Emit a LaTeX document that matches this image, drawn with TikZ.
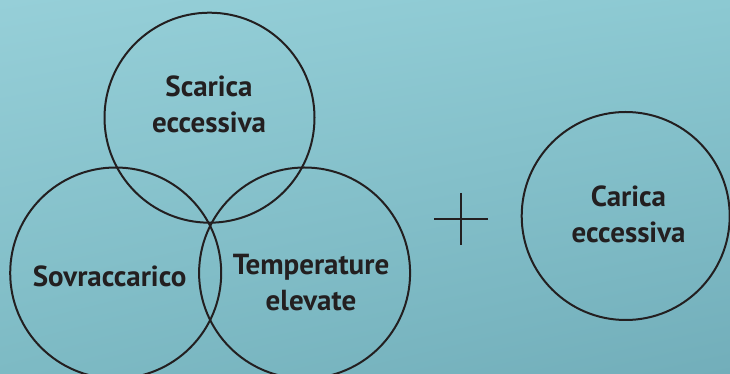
\documentclass[tikz,border=0pt]{standalone}
\usepackage{fontspec}
\setmainfont{PT Sans}
\usetikzlibrary{shadings}
\definecolor{bgul}{HTML}{96CFD8}
\definecolor{bgur}{HTML}{8CC9D2}
\definecolor{bgll}{HTML}{7DBAC4}
\definecolor{bglr}{HTML}{72AEBA}
\definecolor{ink}{HTML}{231F20}
\begin{document}
\begin{tikzpicture}[x=1pt,y=1pt,
  ring/.style={draw=ink,line width=2pt,circle,minimum size=#1,inner sep=0pt},
  lbl/.style={font=\fontsize{29}{36}\selectfont\bfseries,text=ink,align=center,inner sep=0pt}]
\shade[upper left=bgul,upper right=bgur,lower left=bgll,lower right=bglr] (0,0) rectangle (730,374);
\useasboundingbox (0,0) rectangle (730,374);
\node[ring=210pt] (top) at (209.5,256.3) {};
\node[ring=211pt] (left) at (115.7,101) {};
\node[ring=211pt] (right) at (304.6,101) {};
\node[ring=208pt] (carica) at (625.7,158) {};
\coordinate (pl) at (434,155);
\coordinate (pr) at (488,155);
\coordinate (pt) at (461,181);
\coordinate (pb) at (461,129);
\draw[draw=ink,line width=1.6pt] (pl) -- (pr) (pt) -- (pb);
\node[lbl] (t1) at (209,269.5) {Scarica\\eccessiva};
\node[lbl] (t2) at (109.6,98) {Sovraccarico};
\node[lbl] (t3) at (311,91.5) {Temperature\\elevate};
\node[lbl] (t4) at (628.5,160) {Carica\\eccessiva};
\end{tikzpicture}
\end{document}
